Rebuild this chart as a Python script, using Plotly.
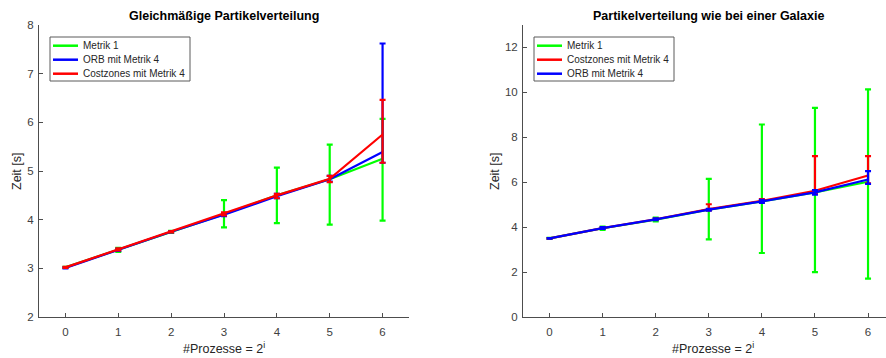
import numpy as np
import plotly.graph_objects as go

x = [0, 1, 2, 3, 4, 5, 6]
x_ticks = [0, 1, 2, 3, 4, 5, 6]

# Left: Gleichmäßige Partikelverteilung
l_m1 = [3.02, 3.38, 3.75, 4.11, 4.50, 4.83, 5.25]
l_m1_lo = [3.01, 3.34, 3.73, 3.84, 3.93, 3.90, 3.98]
l_m1_hi = [3.03, 3.42, 3.77, 4.40, 5.07, 5.54, 6.07]
l_orb = [3.01, 3.38, 3.75, 4.10, 4.48, 4.83, 5.39]
l_orb_lo = [3.00, 3.36, 3.74, 4.07, 4.44, 4.78, 5.17]
l_orb_hi = [3.02, 3.40, 3.76, 4.13, 4.53, 4.90, 7.62]
l_cz = [3.02, 3.39, 3.75, 4.12, 4.50, 4.84, 5.75]
l_cz_lo = [3.01, 3.37, 3.74, 4.09, 4.44, 4.77, 5.17]
l_cz_hi = [3.03, 3.41, 3.76, 4.15, 4.53, 4.90, 6.46]
l_yticks = [2, 3, 4, 5, 6, 7, 8]

# Right: Partikelverteilung wie bei einer Galaxie
r_m1 = [3.50, 3.95, 4.33, 4.78, 5.15, 5.55, 6.02]
r_m1_lo = [3.48, 3.88, 4.26, 3.46, 2.85, 2.00, 1.71]
r_m1_hi = [3.52, 4.02, 4.42, 6.15, 8.57, 9.31, 10.13]
r_cz = [3.50, 3.96, 4.35, 4.80, 5.17, 5.62, 6.30]
r_cz_lo = [3.49, 3.93, 4.32, 4.75, 5.10, 5.50, 5.95]
r_cz_hi = [3.51, 3.99, 4.38, 5.02, 5.25, 7.16, 7.16]
r_orb = [3.50, 3.96, 4.35, 4.78, 5.15, 5.55, 6.12]
r_orb_lo = [3.49, 3.92, 4.31, 4.74, 5.08, 5.45, 5.93]
r_orb_hi = [3.51, 4.00, 4.39, 4.82, 5.22, 5.65, 6.49]
r_yticks = [0, 2, 4, 6, 8, 10, 12]

left_legend = ["Metrik 1", "ORB mit Metrik 4", "Costzones mit Metrik 4"]
right_legend = ["Metrik 1", "Costzones mit Metrik 4", "ORB mit Metrik 4"]

GREEN, BLUE, RED = "#00ff00", "#0000ff", "#ff0000"
FONT = "Liberation Sans, Arial, sans-serif"
AX = "#4d4d4d"

def tr(y, lo, hi, color, name, xa, ya):
    y = np.array(y); lo = np.array(lo); hi = np.array(hi)
    return go.Scatter(
        x=x, y=y, mode="lines", name=name, xaxis=xa, yaxis=ya, showlegend=False,
        line=dict(color=color, width=2.2),
        error_y=dict(type="data", symmetric=False, array=hi - y, arrayminus=y - lo,
                     color=color, thickness=2.2, width=3),
    )

fig = go.Figure()
fig.add_trace(tr(l_m1, l_m1_lo, l_m1_hi, GREEN, left_legend[0], "x", "y"))
fig.add_trace(tr(l_orb, l_orb_lo, l_orb_hi, BLUE, left_legend[1], "x", "y"))
fig.add_trace(tr(l_cz, l_cz_lo, l_cz_hi, RED, left_legend[2], "x", "y"))
fig.add_trace(tr(r_m1, r_m1_lo, r_m1_hi, GREEN, right_legend[0], "x2", "y2"))
fig.add_trace(tr(r_cz, r_cz_lo, r_cz_hi, RED, right_legend[1], "x2", "y2"))
fig.add_trace(tr(r_orb, r_orb_lo, r_orb_hi, BLUE, right_legend[2], "x2", "y2"))

W, H = 886, 358
ydom = [(H - 317) / H, (H - 25) / H]

axcommon = dict(showgrid=False, zeroline=False, showline=True, linecolor=AX, linewidth=1,
                ticks="inside", ticklen=4, tickcolor=AX, automargin=False,
                tickfont=dict(family=FONT, size=11.5, color="#404040"))

fig.update_layout(
    width=W, height=H, margin=dict(l=0, r=0, t=0, b=0),
    paper_bgcolor="white", plot_bgcolor="white",
    font=dict(family=FONT, color="#262626"),
    xaxis=dict(domain=[39 / W, 409 / W], range=[-0.5, 6.5], tickvals=x_ticks, anchor="y",
               ticklabelstandoff=4, **axcommon),
    yaxis=dict(domain=ydom, range=[2, 8], tickvals=l_yticks, anchor="x", ticklabelstandoff=2, **axcommon),
    xaxis2=dict(domain=[523 / W, 1.0], range=[-0.5, 6.5 - (894.6 - 886) / 53.2], tickvals=x_ticks, anchor="y2",
                ticklabelstandoff=4, **axcommon),
    yaxis2=dict(domain=ydom, range=[0, 13], tickvals=r_yticks, anchor="x2", ticklabelstandoff=2, **axcommon),
    showlegend=False,
)

def px(v):
    return v / W

def py(v):
    return 1 - v / H

ann = []
shapes = []
for cx, title in [(224, "Gleichmäßige Partikelverteilung"), (708, "Partikelverteilung wie bei einer Galaxie")]:
    ann.append(dict(x=px(cx), y=py(16), xref="paper", yref="paper", text="<b>" + title + "</b>",
                    xanchor="center", yanchor="middle",
                    showarrow=False, font=dict(family=FONT, size=12.5, color="#000000")))
for cx in [224, 713]:
    ann.append(dict(x=px(cx), y=py(348), xref="paper", yref="paper", text="#Prozesse = 2<sup>i</sup>",
                    xanchor="center", yanchor="middle",
                    showarrow=False, font=dict(family=FONT, size=12.5, color="#262626")))
for cx in [17, 495]:
    ann.append(dict(x=px(cx), y=py(171), xref="paper", yref="paper", text="Zeit [s]", textangle=-90,
                    xanchor="center", yanchor="middle",
                    showarrow=False, font=dict(family=FONT, size=12.5, color="#262626")))

# legends (box, line samples, labels)
for (bx0, bx1, lx0, lx1, tx), names, colors in [
    ((50, 190, 53, 78, 81), left_legend, [GREEN, BLUE, RED]),
    ((534, 674, 537, 562, 565), right_legend, [GREEN, RED, BLUE]),
]:
    shapes.append(dict(type="rect", xref="paper", yref="paper", x0=px(bx0), x1=px(bx1), y0=py(81), y1=py(37),
                       line=dict(color="#5a5a5a", width=1), fillcolor="white", layer="above"))
    for i, (nm, c) in enumerate(zip(names, colors)):
        ry = 45.7 + 14 * i
        shapes.append(dict(type="line", xref="paper", yref="paper", x0=px(lx0), x1=px(lx1), y0=py(ry), y1=py(ry),
                           line=dict(color=c, width=2.5), layer="above"))
        ann.append(dict(x=px(tx), y=py(ry), xref="paper", yref="paper", text=nm, xanchor="left", yanchor="middle",
                        showarrow=False, font=dict(family=FONT, size=10, color="#262626")))

fig.update_layout(annotations=ann, shapes=shapes)

fig.write_html("out.html", config={"displayModeBar": False},
               post_script="document.body.style.margin='0px';document.body.style.overflow='hidden';")
